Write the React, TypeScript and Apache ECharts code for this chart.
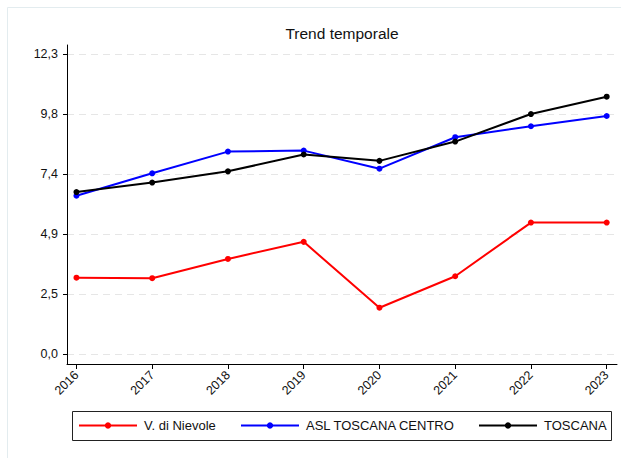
import React, { useEffect, useRef } from "react";
import * as echarts from "echarts";

const years = [2016, 2017, 2018, 2019, 2020, 2021, 2022, 2023];
const nievole = [3.14, 3.12, 3.91, 4.61, 1.91, 3.2, 5.4, 5.4];
const aslCentro = [6.5, 7.42, 8.31, 8.35, 7.61, 8.9, 9.35, 9.77];
const toscana = [6.65, 7.04, 7.5, 8.19, 7.93, 8.72, 9.85, 10.56];
const yTicks = [0, 2.46, 4.92, 7.38, 9.84, 12.3];
const seriesNames = ["V. di Nievole", "ASL TOSCANA CENTRO", "TOSCANA"];
const seriesColors = ["#ff0000", "#0000ff", "#000000"];

const FONT = "'Liberation Sans', Arial, sans-serif";

export default function App() {
  const ref = useRef<HTMLDivElement>(null);
  useEffect(() => {
    document.body.style.overflow = "hidden";
    const chart = echarts.init(ref.current!, undefined, { renderer: "svg" });
    const values = [nievole, aslCentro, toscana];
    const legendLefts = [78, 240, 478];
    chart.setOption({
      animation: false,
      textStyle: { fontFamily: FONT },
      grid: { left: 67, top: 45, right: 4, bottom: 94 },
      xAxis: {
        type: "value",
        min: 2015.875,
        max: 2023.136,
        axisLine: { onZero: false, lineStyle: { color: "#000", width: 1 } },
        axisTick: { customValues: years, length: 5, lineStyle: { color: "#000" } },
        axisLabel: {
          customValues: years,
          rotate: 45,
          align: "right",
          verticalAlign: "middle",
          margin: 9,
          fontSize: 12.5,
          color: "#111",
          fontFamily: FONT,
          formatter: (v: number) => String(v),
        },
        splitLine: { show: false },
      },
      yAxis: {
        type: "value",
        min: -0.398,
        max: 12.68,
        axisLine: { show: true, onZero: false, lineStyle: { color: "#000", width: 1 } },
        axisTick: { show: true, customValues: yTicks, length: 4, lineStyle: { color: "#000" } },
        axisLabel: {
          customValues: yTicks,
          margin: 9,
          fontSize: 12.5,
          color: "#111",
          fontFamily: FONT,
          formatter: (v: number) => v.toFixed(1).replace(".", ","),
        },
        splitLine: {
          show: true,
          lineStyle: { color: "#e6e6e6", type: [7, 5], width: 1 },
        },
      },
      legend: seriesNames.map((n, i) => ({
        data: [n],
        left: legendLefts[i],
        top: 419,
        padding: 0,
        itemWidth: 58,
        itemHeight: 8,
        selectedMode: false,
        textStyle: { fontSize: 13, color: "#111", fontFamily: FONT, padding: [0, 0, 0, 2] },
      })),
      graphic: [
        {
          type: "text",
          x: 342,
          y: 33,
          style: {
            text: "Trend temporale",
            align: "center",
            verticalAlign: "middle",
            fontSize: 15.5,
            fontFamily: FONT,
            fill: "#111",
          },
        },
        {
          type: "rect",
          z: -1,
          shape: { x: 72.5, y: 411.5, width: 539, height: 29 },
          style: { fill: "#fff", stroke: "#222", lineWidth: 1 },
        },
        {
          type: "line",
          shape: { x1: 7.5, y1: 7.5, x2: 7.5, y2: 458 },
          style: { stroke: "#e3ecef", lineWidth: 1 },
        },
        {
          type: "line",
          shape: { x1: 7.5, y1: 7.5, x2: 621, y2: 7.5 },
          style: { stroke: "#e3ecef", lineWidth: 1 },
        },
      ],
      series: seriesNames.map((n, i) => ({
        name: n,
        type: "line",
        data: years.map((y, j) => [y, values[i][j]]),
        symbol: "circle",
        symbolSize: 6,
        itemStyle: { color: seriesColors[i] },
        lineStyle: { color: seriesColors[i], width: 2 },
      })),
    });
    return () => chart.dispose();
  }, []);
  return (
    <div
      ref={ref}
      style={{ position: "fixed", left: 0, top: 0, width: 621, height: 458, background: "#fff" }}
    />
  );
}
